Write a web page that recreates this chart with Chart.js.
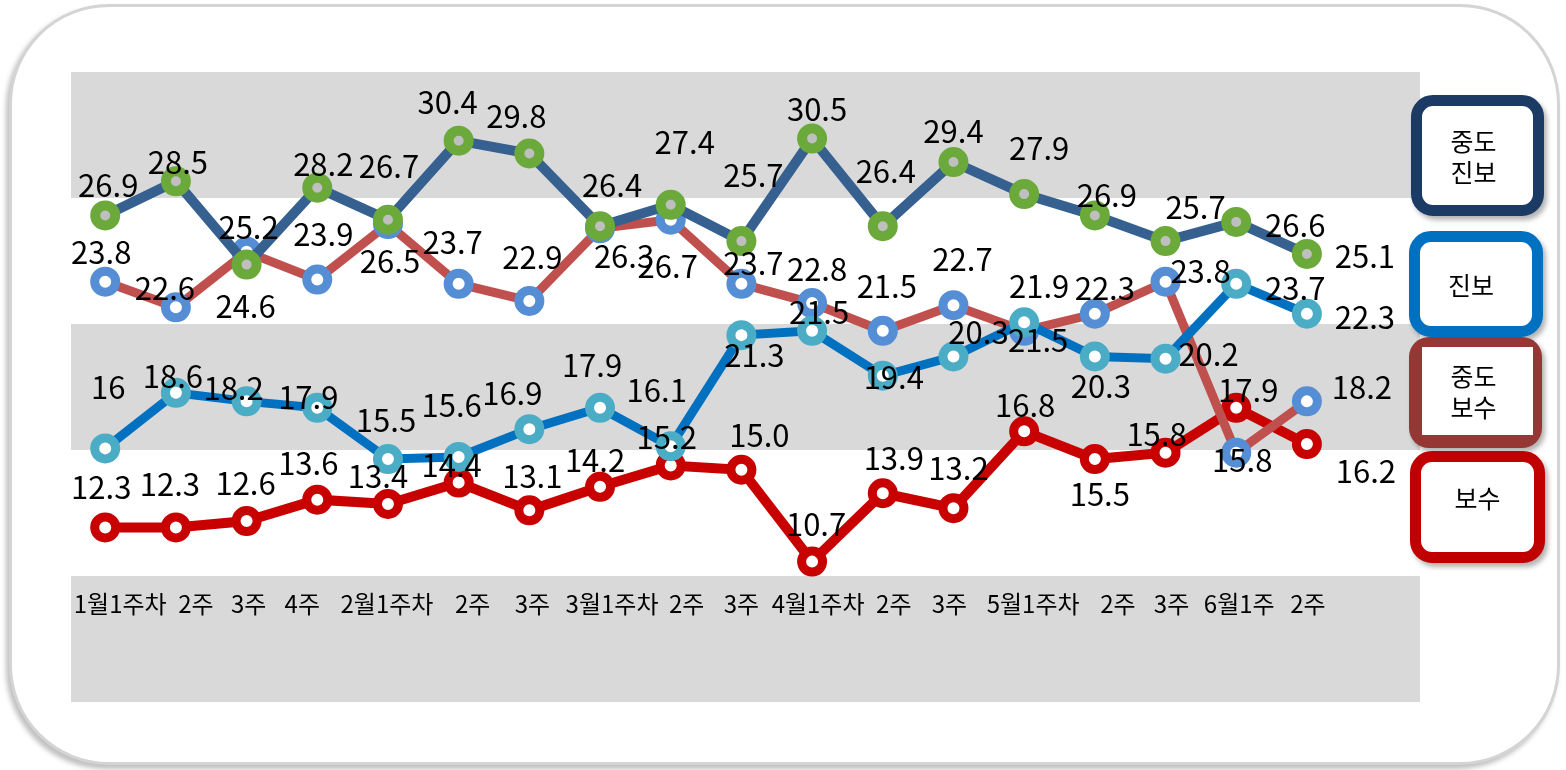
<!DOCTYPE html>
<html lang="ko">
<head>
<meta charset="utf-8">
<script src="https://cdn.jsdelivr.net/npm/chart.js@4.4.0/dist/chart.umd.min.js"></script>
<style>
  html, body { margin: 0; padding: 0; background: #fff; }
  body { width: 1566px; height: 770px; position: relative; overflow: hidden; font-family: "Noto Sans CJK KR", sans-serif; }
  .frame { position: absolute; left: 9px; top: 4px; width: 1545px; height: 755px; border: 3px solid #d4d4d4; border-radius: 100px; box-shadow: -3px 4px 5px rgba(0,0,0,0.25); background: #fff; }
  #chart { position: absolute; left: 0; top: 0; }
  .key { position: absolute; box-sizing: border-box; background: #fff; border: 11px solid; border-radius: 22px; box-shadow: 3px 4px 5px rgba(0,0,0,0.3); font-size: 25px; line-height: 31px; color: #000; display: flex; align-items: center; justify-content: center; text-align: center; }
  .key.mid { background: #953735; border: none; border-radius: 20px; }
  .key.mid span { position: absolute; left: 13px; top: 10px; width: 111px; height: 88px; background: #fff; display: flex; align-items: center; justify-content: center; padding-right: 8px; box-sizing: border-box; }
</style>
</head>
<body>
<div class="frame"></div>
<canvas id="chart" width="1566" height="770"></canvas>

<div class="key" style="left:1411px; top:95px; width:133px; height:121px; border-color:#1B3A64; padding-right:8px;">중도<br>진보</div>
<div class="key" style="left:1409px; top:231px; width:134px; height:106px; border-color:#0070C0; padding-right:10px;">진보</div>
<div class="key mid" style="left:1409px; top:337px; width:133px; height:111px;"><span>중도<br>보수</span></div>
<div class="key" style="left:1410px; top:451px; width:135px; height:112px; border-color:#C00000; padding-bottom:20px;">보수</div>

<script>
// 주차 라벨
const weeks = ['1월1주차', '2주', '3주', '4주', '2월1주차', '2주', '3주', '3월1주차', '2주', '3주',
               '4월1주차', '2주', '3주', '5월1주차', '2주', '3주', '6월1주', '2주'];

// 성향별 수치 (%)
const jungdoJinbo = [26.9, 28.5, 24.6, 28.2, 26.7, 30.4, 29.8, 26.4, 27.4, 25.7, 30.5, 26.4, 29.4, 27.9, 26.9, 25.7, 26.6, 25.1];
const jinbo       = [16, 18.6, 18.2, 17.9, 15.5, 15.6, 16.9, 17.9, 16.1, 21.3, 21.5, 19.4, 20.3, 21.9, 20.3, 20.2, 23.7, 22.3];
const jungdoBosu  = [23.8, 22.6, 25.2, 23.9, 26.5, 23.7, 22.9, 26.3, 26.7, 23.7, 22.8, 21.5, 22.7, 21.5, 22.3, 23.8, 15.8, 18.2];
const bosu        = [12.3, 12.3, 12.6, 13.6, 13.4, 14.4, 13.1, 14.2, 15.2, 15.0, 10.7, 13.9, 13.2, 16.8, 15.5, 15.8, 17.9, 16.2];

// 데이터 라벨 위치 보정 (점 기준 dx, dy)
const jungdoJinboNudge = [[3,-30],[2,-19],[-1,42],[6,-23],[1,-54],[-11,-38],[-13,-37],[12,-41],[14,-63],[12,-66],[5,-29],[3,-55],[0,-31],[15,-46],[12,-20],[30,-34],[59,3],[58,2]];
const jinboNudge       = [[3,-61],[-3,-17],[-13,-13],[-9,-11],[-2,-39],[-7,-52],[-17,-36],[-8,-43],[-14,-56],[13,20],[7,-19],[11,1],[25,-24],[15,-36],[6,30],[43,-4],[59,4],[58,3]];
const jungdoBosuNudge  = [[-4,-29],[-11,-19],[2,-25],[6,-45],[2,37],[-6,-42],[3,-44],[24,28],[-3,46],[12,-21],[5,-34],[4,-45],[9,-46],[14,9],[10,-26],[35,-10],[6,8],[55,-14]];
const bosuNudge        = [[-4,-40],[-6,-43],[-1,-38],[-9,-36],[-10,-28],[-7,-17],[3,-34],[-5,-27],[-4,-28],[18,-35],[4,-37],[11,-35],[5,-40],[1,-26],[5,35],[-9,-18],[12,-18],[59,27]];
// 주차 라벨 가로 보정
const weekNudge = [15, 20, 2, -15, -1, 14, 3, 12, 16, 0, 6, 11, -4, 9, 23, 6, 3, 1];

const toPoints = arr => arr.map((v, i) => ({ x: i, y: v }));

// 회색 띠 배경 + 주차 라벨
const bands = {
    id: 'bands',
    beforeDatasetsDraw(chart) {
        const { ctx, chartArea: a, scales } = chart;
        const h = a.height / 5;
        ctx.save();
        ctx.fillStyle = '#D9D9D9';
        for (let i = 0; i < 5; i += 2) {
            ctx.fillRect(a.left, a.top + i * h, a.width, h);
        }
        ctx.font = '24px "Noto Sans CJK KR"';
        ctx.fillStyle = '#000';
        ctx.textBaseline = 'middle';
        ctx.textAlign = 'center';
        weeks.forEach((w, i) => {
            const half = ctx.measureText(w).width / 2;
            const x = Math.max(scales.x.getPixelForValue(i) + weekNudge[i], a.left + half);
            ctx.fillText(w, x, a.bottom - 98);
        });
        ctx.restore();
    }
};

// 데이터 라벨
const valueLabels = {
    id: 'valueLabels',
    afterDatasetsDraw(chart) {
        const { ctx } = chart;
        ctx.save();
        ctx.font = '31px "Noto Sans CJK KR"';
        ctx.fillStyle = '#000';
        ctx.textAlign = 'center';
        ctx.textBaseline = 'middle';
        chart.data.datasets.forEach((ds, di) => {
            const meta = chart.getDatasetMeta(di);
            meta.data.forEach((pt, i) => {
                const [dx, dy] = ds.nudge[i];
                ctx.fillText(ds.fmt(ds.data[i].y), pt.x + dx, pt.y + dy);
            });
        });
        ctx.restore();
    }
};

const oneDecimal = v => v.toFixed(1);

new Chart(document.getElementById('chart'), {
    type: 'line',
    data: {
        datasets: [
            {
                label: '중도진보',
                data: toPoints(jungdoJinbo),
                nudge: jungdoJinboNudge,
                fmt: oneDecimal,
                borderColor: '#36608F',
                borderWidth: 10,
                pointBackgroundColor: '#BFBFBF',
                pointBorderColor: '#6BA93B',
                pointRadius: 10,
                pointBorderWidth: 10
            },
            {
                label: '진보',
                data: toPoints(jinbo),
                nudge: jinboNudge,
                fmt: v => String(v),
                borderColor: '#0070C0',
                borderWidth: 9,
                pointBackgroundColor: '#FFFFFF',
                pointBorderColor: '#4BACC6',
                pointRadius: 10.5,
                pointBorderWidth: 9
            },
            {
                label: '중도보수',
                data: toPoints(jungdoBosu),
                nudge: jungdoBosuNudge,
                fmt: oneDecimal,
                borderColor: '#C0504D',
                borderWidth: 9,
                pointBackgroundColor: '#FFFFFF',
                pointBorderColor: '#558ED5',
                pointRadius: 10.5,
                pointBorderWidth: 9
            },
            {
                label: '보수',
                data: toPoints(bosu),
                nudge: bosuNudge,
                fmt: oneDecimal,
                borderColor: '#C80000',
                borderWidth: 10,
                pointBackgroundColor: '#FFFFFF',
                pointBorderColor: '#C80000',
                pointRadius: 10.5,
                pointBorderWidth: 9
            }
        ]
    },
    options: {
        responsive: false,
        animation: false,
        layout: { padding: { left: 71, top: 72, right: 146, bottom: 68 } },
        elements: { line: { tension: 0 } },
        scales: {
            x: { type: 'linear', min: -0.484, max: 18.6, display: false },
            y: { min: 4.13, max: 33.615, display: false }
        },
        plugins: {
            legend: { display: false },
            tooltip: { enabled: false }
        }
    },
    plugins: [bands, valueLabels]
});
</script>
</body>
</html>
